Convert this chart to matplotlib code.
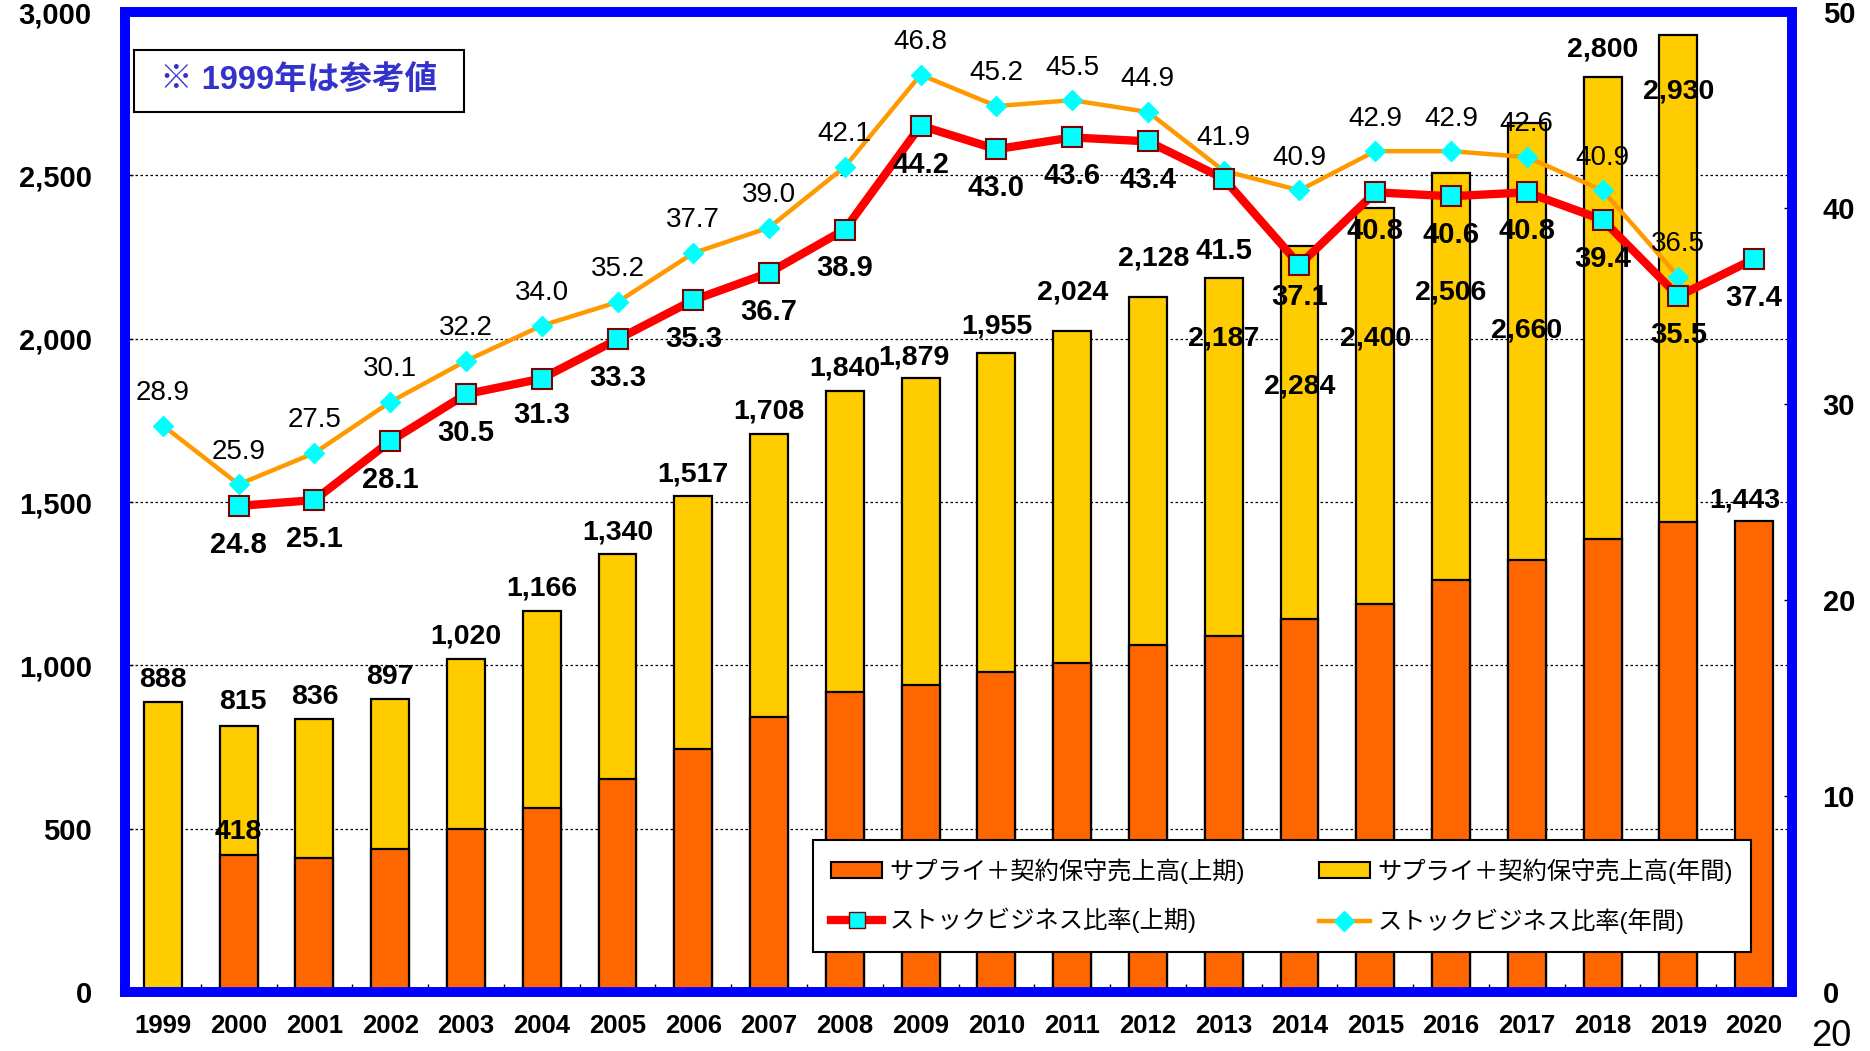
import numpy as np
import matplotlib
matplotlib.use("Agg")
import matplotlib.pyplot as plt
from matplotlib.patches import Patch, Rectangle
from matplotlib.lines import Line2D

plt.rcParams['font.family'] = ['Liberation Sans', 'Noto Sans CJK JP', 'DejaVu Sans']

years = list(range(1999, 2021))

# サプライ＋契約保守売上高（年間）1999-2019
sales_year_years = list(range(1999, 2020))
sales_year = [888, 815, 836, 897, 1020, 1166, 1340, 1517, 1708, 1840, 1879,
              1955, 2024, 2128, 2187, 2284, 2400, 2506, 2660, 2800, 2930]

# サプライ＋契約保守売上高（上期）2000-2020
sales_h1_years = list(range(2000, 2021))
sales_h1 = [418, 410, 439, 498, 563, 651, 743, 842, 918, 940, 981,
            1006, 1061, 1090, 1142, 1189, 1262, 1321, 1387, 1440, 1443]
sales_h1_labeled = [2000, 2020]

# ストックビジネス比率（上期）2000-2020
ratio_h1_years = list(range(2000, 2021))
ratio_h1 = [24.8, 25.1, 28.1, 30.5, 31.3, 33.3, 35.3, 36.7, 38.9, 44.2, 43.0,
            43.6, 43.4, 41.5, 37.1, 40.8, 40.6, 40.8, 39.4, 35.5, 37.4]

# ストックビジネス比率（年間）1999-2019
ratio_year_years = list(range(1999, 2020))
ratio_year = [28.9, 25.9, 27.5, 30.1, 32.2, 34.0, 35.2, 37.7, 39.0, 42.1, 46.8,
              45.2, 45.5, 44.9, 41.9, 40.9, 42.9, 42.9, 42.6, 40.9, 36.5]

# label offsets in points (dx, dy) from the mark
yellow_off_default = (0, 16)
yellow_off = {2000: (3, 17), 2009: (-5, 15), 2010: (0, 19), 2011: (0, 27.5),
              2012: (4, 27.5), 2013: (0, -44), 2014: (0, -101), 2015: (0, -94),
              2016: (0, -86), 2017: (0, -149), 2018: (0, 20), 2019: (0, -41)}
orange_off = {2000: (0, 17), 2020: (-7, 14.5)}
red_off_default = (0, -28)
red_off = {2013: (0, -52), 2014: (0, -23), 2004: (0, -26.5)}
amber_off_default = (0, 23.5)

YELLOW = '#FFCC00'
ORANGE = '#FF6600'
RED = '#FF0000'
AMBER = '#FF9900'
CYAN = '#00FFFF'
BLUE = '#0000FF'

def xpos(yrs):
    return [years.index(y) for y in yrs]

fig = plt.figure(figsize=(18.7, 10.51), dpi=100)
ax = fig.add_axes([125 / 1870, 1 - 992 / 1051, 1667 / 1870, 980 / 1051])
ax2 = ax.twinx()

w = 0.5
ax.bar(xpos(sales_year_years), sales_year, width=w, color=YELLOW,
       edgecolor='black', linewidth=1.6, zorder=2)
ax.bar(xpos(sales_h1_years), sales_h1, width=w, color=ORANGE,
       edgecolor='black', linewidth=1.6, zorder=3)

ax.set_xlim(-0.5, len(years) - 0.5)
ax.set_ylim(0, 3000)
ax.set_yticks(np.arange(0, 3001, 500))
ax.set_yticklabels([f'{v:,}' for v in range(0, 3001, 500)])
ax.grid(axis='y', color='black', linestyle=(0, (2, 2)), linewidth=0.9, zorder=0)
ax.set_axisbelow(True)

ax.set_xticks(range(len(years)))
ax.set_xticklabels([str(y) for y in years])
ax.set_xticks(np.arange(0.5, len(years) - 1, 1), minor=True)
ax.tick_params(axis='x', which='major', length=0, pad=16, labelsize=18.5)
ax.tick_params(axis='x', which='minor', direction='in', length=6, width=1)
for t in ax.get_xticklabels():
    t.set_fontweight('bold')
ax.tick_params(axis='y', direction='in', length=6, width=1, pad=24, labelsize=21)
for t in ax.get_yticklabels():
    t.set_fontweight('bold')

ax2.plot(xpos(ratio_year_years), ratio_year, color=AMBER, linewidth=3.2,
         marker='D', markersize=10, markerfacecolor=CYAN, markeredgecolor=CYAN,
         zorder=4)
ax2.plot(xpos(ratio_h1_years), ratio_h1, color=RED, linewidth=6,
         marker='s', markersize=14, markerfacecolor=CYAN,
         markeredgecolor='#800000', markeredgewidth=1.5, zorder=5)
ax2.set_ylim(0, 50)
ax2.set_yticks(range(0, 51, 10))
ax2.tick_params(axis='y', direction='in', length=6, width=1, pad=22, labelsize=21)
for t in ax2.get_yticklabels():
    t.set_fontweight('bold')

for a in (ax, ax2):
    for s in a.spines.values():
        s.set_color(BLUE)
        s.set_linewidth(7)

# value labels
for yr, v in zip(sales_year_years, sales_year):
    dx, dy = yellow_off.get(yr, yellow_off_default)
    ax2.annotate(f'{v:,}', (years.index(yr), v), xycoords=ax.transData,
                 xytext=(dx, dy), textcoords='offset points', ha='center',
                 va='center', fontsize=20.5, fontweight='bold', zorder=10)
for yr, v in zip(sales_h1_years, sales_h1):
    if yr not in sales_h1_labeled:
        continue
    dx, dy = orange_off[yr]
    ax2.annotate(f'{v:,}', (years.index(yr), v), xycoords=ax.transData,
                 xytext=(dx, dy), textcoords='offset points', ha='center',
                 va='center', fontsize=20.5, fontweight='bold', zorder=10)
for yr, v in zip(ratio_h1_years, ratio_h1):
    dx, dy = red_off.get(yr, red_off_default)
    ax2.annotate(f'{v:.1f}', (years.index(yr), v), xytext=(dx, dy),
                 textcoords='offset points', ha='center', va='center',
                 fontsize=21, fontweight='bold', zorder=10)
for yr, v in zip(ratio_year_years, ratio_year):
    dx, dy = amber_off_default
    ax2.annotate(f'{v:.1f}', (years.index(yr), v), xytext=(dx, dy),
                 textcoords='offset points', ha='center', va='center',
                 fontsize=20, zorder=10)

# note box
ax2.add_patch(Rectangle((0.0054, 0.898), 0.198, 0.063, transform=ax2.transAxes,
                        facecolor='white', edgecolor='black', linewidth=1.5,
                        zorder=11))
ax2.text(0.1044, 0.9295, '※ 1999年は参考値', transform=ax2.transAxes,
         ha='center', va='center', fontsize=23.5, fontweight='bold',
         color='#3333CC', zorder=12)

handles = [
    Patch(facecolor=ORANGE, edgecolor='black', linewidth=1.5),
    Line2D([], [], color=RED, linewidth=6, marker='s', markersize=12,
           markerfacecolor=CYAN, markeredgecolor='#800000'),
    Patch(facecolor=YELLOW, edgecolor='black', linewidth=1.5),
    Line2D([], [], color=AMBER, linewidth=3.2, marker='D', markersize=10,
           markerfacecolor=CYAN, markeredgecolor=CYAN),
]
labels = ['サプライ＋契約保守売上高(上期)', 'ストックビジネス比率(上期)',
          'サプライ＋契約保守売上高(年間)', 'ストックビジネス比率(年間)']
leg = ax2.legend(handles, labels, loc='lower left',
                 bbox_to_anchor=(0.4127, 0.0408, 0.5627, 0.108), mode='expand',
                 ncol=2, fontsize=17.5, frameon=True, fancybox=False,
                 edgecolor='black', framealpha=1, handlelength=2.1,
                 handleheight=0.6, handletextpad=0.3, labelspacing=1.0,
                 borderpad=0.75, borderaxespad=0)
leg.get_frame().set_linewidth(1.5)
leg.set_zorder(12)

fig.text(1831 / 1870, 1 - 1036 / 1051, '20', ha='center', va='center',
         fontsize=26)

fig.savefig('out.png', dpi=100)
